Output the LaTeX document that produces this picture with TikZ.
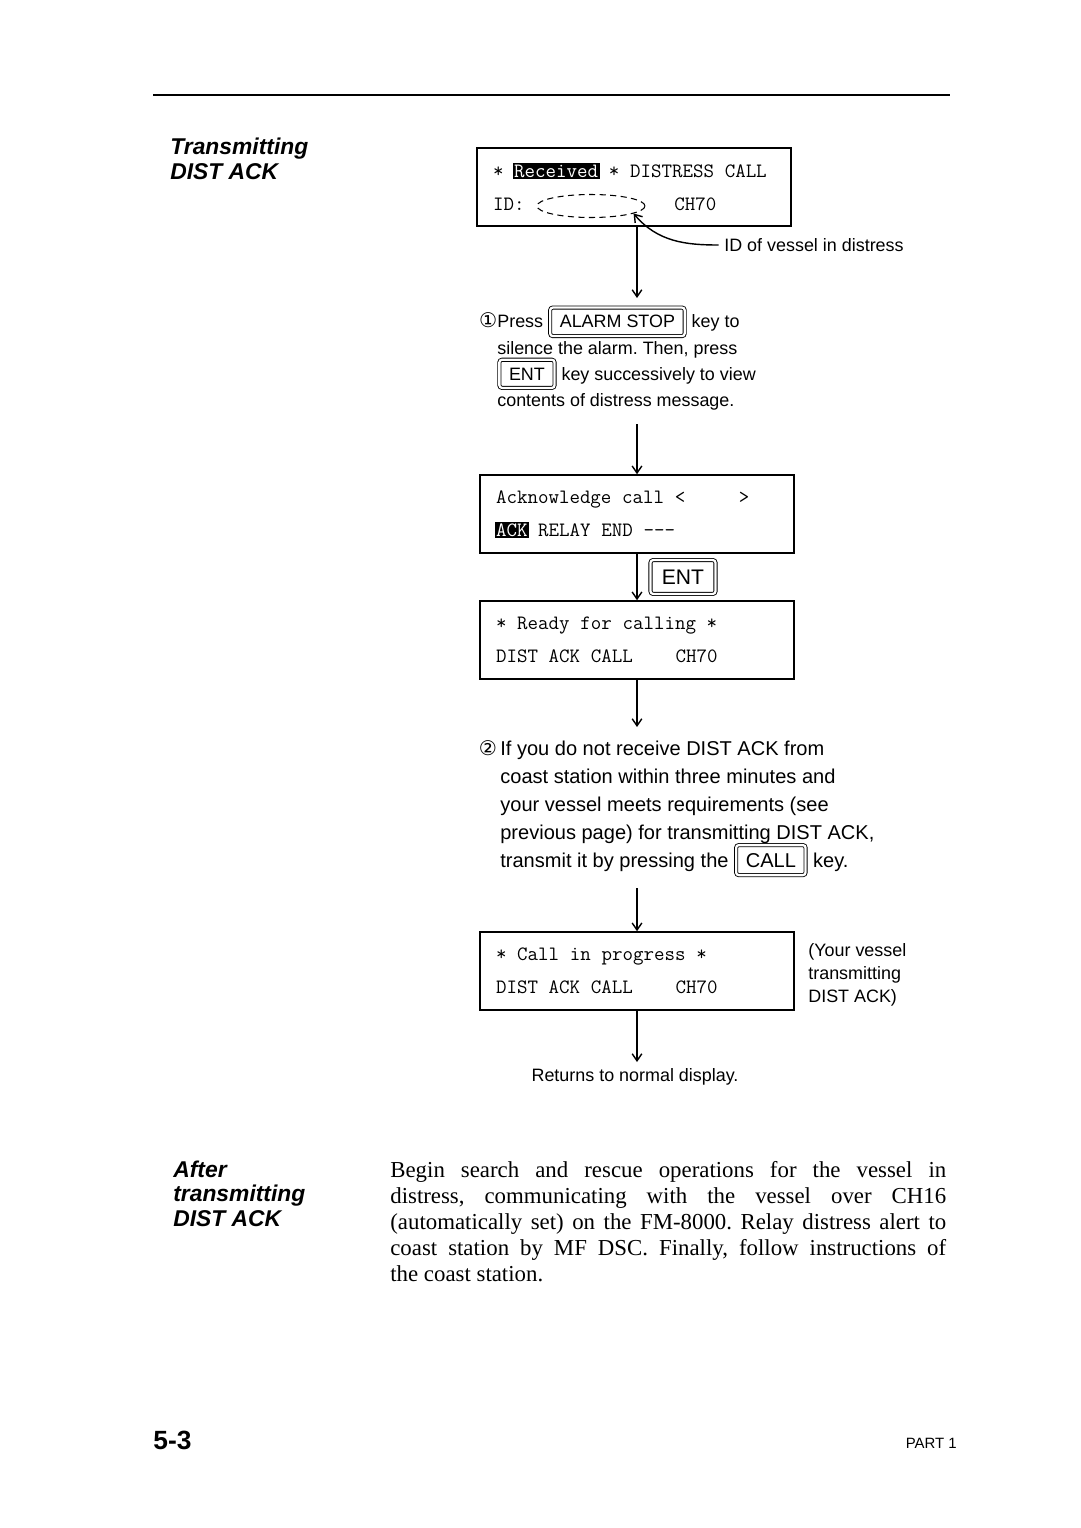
\documentclass[tikz,border=0pt]{standalone}
\usepackage{fontspec}
\setmainfont{Liberation Serif}
\setsansfont{Liberation Sans}
\newfontfamily\symfont{DejaVu Sans}
\usetikzlibrary{arrows.meta,shapes.geometric}
\frenchspacing
\tikzset{keycap/.style={draw,double,double distance=1.3pt,line width=0.5pt,rounded corners=1.5pt,inner xsep=5.5pt,inner ysep=4.5pt}}
\newcommand{\keycap}[1]{\tikz[baseline=(k.base)]\node[keycap](k){#1};}
\newcommand{\lcdinv}[1]{{\setlength{\fboxsep}{0.8pt}\hspace*{-0.8pt}\colorbox{black}{\textcolor{white}{#1}}\hspace*{-0.8pt}}}
\newcommand{\stepno}[1]{{\symfont\fontsize{11.5}{11.5}\selectfont #1}}
\newcommand{\lcdfont}{\ttfamily\fontsize{11.6}{18.8}\selectfont}
\newcommand{\notefont}{\sffamily\fontsize{10.2}{14.8}\selectfont\lineskiplimit=-\maxdimen}
\newcommand{\stepfont}{\sffamily\fontsize{11.4}{15.8}\selectfont\lineskiplimit=-\maxdimen}

\begin{document}
\begin{tikzpicture}[x=0.02cm,y=-0.02cm,
  lcd/.style={draw,line width=0.9pt,minimum width=6.28cm,minimum height=1.56cm,text width=5.64cm,inner xsep=0.32cm,align=left,font=\lcdfont,
    execute at begin node={\spaceskip=0.525em\relax\xspaceskip=0.525em\relax}},
  note/.style={inner sep=0,align=left,font=\notefont},
  head/.style={inner sep=0,align=left,font=\sffamily\bfseries\itshape\fontsize{13}{13.7}\selectfont},
  arr/.style={-{Straight Barb[length=4pt,width=5.5pt]},line width=0.8pt}]
  \path[fill=white,use as bounding box] (0,0) rectangle (1080,1528);
  \draw[line width=1.1pt] (153,95) -- (950,95);
  \node[head,anchor=base west] (title) at (170,179) {Transmitting\\DIST ACK};
  \node[lcd] (rcv) at (634,187) {* \lcdinv{Received} * DISTRESS CALL\\ID:~~~~~~~~~~~~~~CH70};
  \node[ellipse,draw,dash pattern=on 3.5pt off 2.5pt,line width=0.6pt,minimum width=2.16cm,minimum height=0.46cm,inner sep=0] (idfield) at (591,206) {};
  \node[note,anchor=west] (idnote) at (724,245) {ID of vessel in distress};
  \coordinate (s1top) at (637,298);
  \node[note,anchor=base west] (step1) at (497,406) {\llap{\stepno{①}}Press \keycap{ALARM STOP} key to\\silence the alarm. Then, press\\\keycap{ENT} key successively to view\\contents of distress message.};
  \coordinate (s1bot) at (637,424);
  \node[lcd] (ack) at (637,514) {Acknowledge call <~~~~~>\\\lcdinv{ACK} RELAY END -{}-{}-};
  \node[keycap,inner xsep=6.5pt,inner ysep=5.5pt,font=\sffamily\fontsize{12}{12}\selectfont] (entkey) at (683,577) {ENT};
  \node[lcd] (ready) at (637,640) {* Ready for calling *\\DIST ACK CALL~~~~CH70};
  \coordinate (s2top) at (637,727);
  \node[note,font=\stepfont,anchor=base west] (step2) at (500,867) {\llap{\stepno{②}\,}If you do not receive DIST ACK from\\coast station within three minutes and\\your vessel meets requirements (see\\previous page) for transmitting DIST ACK,\\transmit it by pressing the \keycap{CALL} key.};
  \coordinate (s2bot) at (637,888);
  \node[lcd] (prog) at (637,971) {* Call in progress *\\DIST ACK CALL~~~~CH70};
  \node[note,font=\sffamily\fontsize{10.2}{13}\selectfont,anchor=base west] (own) at (808,1002) {(Your vessel\\transmitting\\DIST ACK)};
  \coordinate (rettop) at (637,1062);
  \node[note] (ret) at (635,1077) {Returns to normal display.};
  \draw[arr,shorten <=3pt] (idnote.west) to[out=180,in=-50] (idfield.-10);
  \draw[arr] (rcv.south -| s1top) -- (s1top);
  \draw[arr] (s1bot) -- (ack.north);
  \draw[arr] (ack.south) -- (ready.north);
  \draw[arr] (ready.south) -- (s2top);
  \draw[arr] (s2bot) -- (prog.north);
  \draw[arr] (prog.south) -- (rettop);
  \node[head,anchor=base west] (aftertitle) at (173,1226) {After\\transmitting\\DIST ACK};
  \node[inner sep=0,anchor=base west,text width=11.12cm,align=justify,font=\rmfamily\fontsize{13}{14.8}\selectfont] (body) at (390,1177) {Begin search and rescue operations for the vessel in\linebreak distress, communicating with the vessel over CH16\linebreak (automatically set) on the FM-8000. Relay distress alert to\linebreak coast station by MF DSC. Finally, follow instructions of\linebreak the coast station.};
  \node[inner sep=0,anchor=base west,font=\sffamily\bfseries\fontsize{15}{15}\selectfont] (pageno) at (153,1449) {5-3};
  \node[inner sep=0,anchor=base east,font=\sffamily\fontsize{8.5}{9}\selectfont] (part) at (957,1448) {PART 1};
\end{tikzpicture}
\end{document}
